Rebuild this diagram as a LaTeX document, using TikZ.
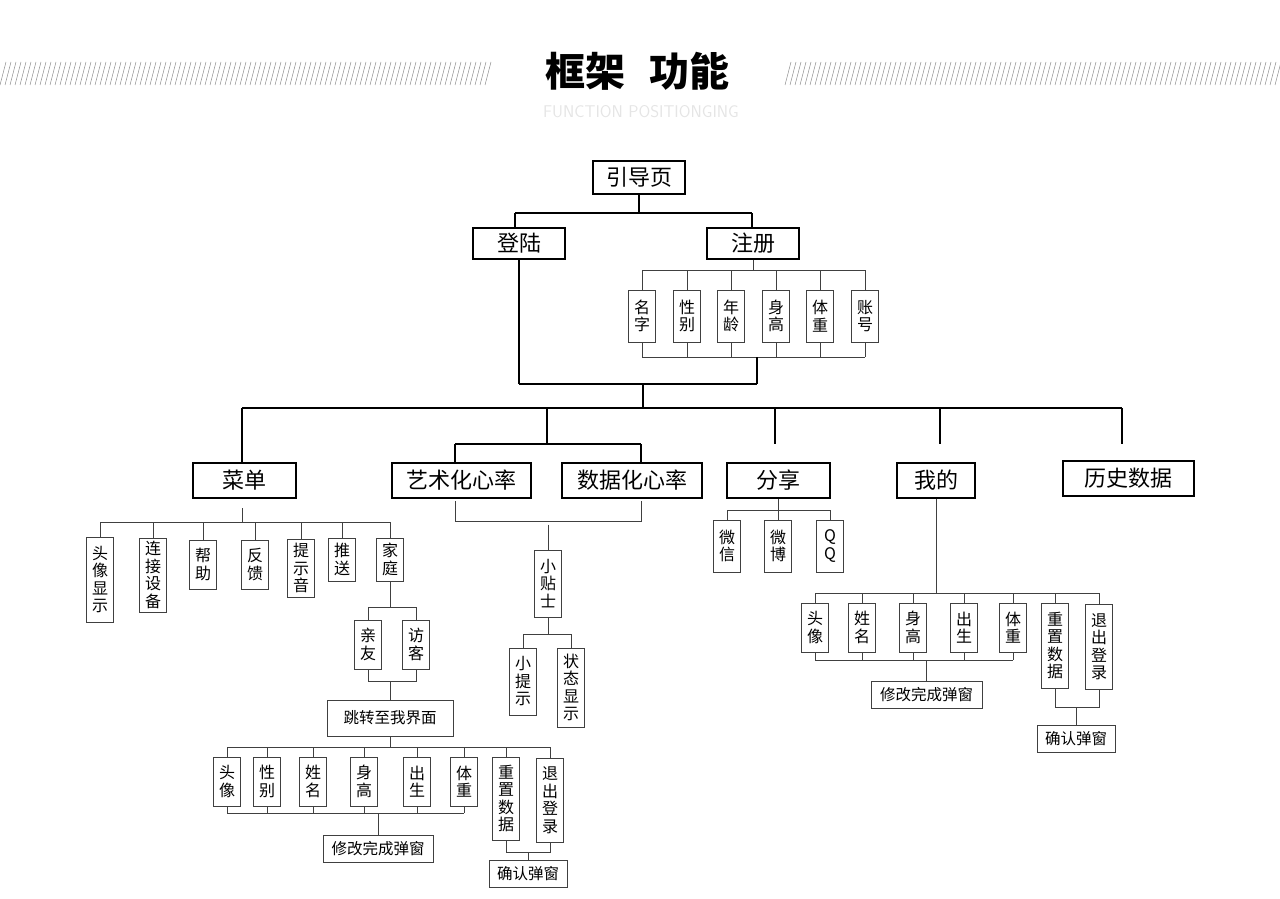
\documentclass[tikz,border=0pt]{standalone}
\usepackage{fontspec}
\setmainfont{Noto Sans CJK SC}
\begin{document}
\begin{tikzpicture}[x=1pt,y=-1pt,
 big/.style={draw=black,line width=2pt,rectangle,inner sep=0pt,font=\fontsize{22}{24}\selectfont},
 vb/.style={draw=black!75,line width=0.8pt,rectangle,inner sep=0pt,minimum width=27pt,align=center,font=\fontsize{16}{17.5}\selectfont},
 hb/.style={draw=black!75,line width=0.8pt,rectangle,inner sep=0pt,font=\fontsize{15.5}{17}\selectfont},
 thick2/.style={line width=2pt},
 thin1/.style={line width=0.8pt,black!75}]
\useasboundingbox (0,0) rectangle (1280,899);
% header
\foreach \i in {0,5,...,485} \draw[black!45,line width=0.5pt] (\i,85) -- (\i+6,62);
\foreach \i in {785,790,...,1275} \draw[black!45,line width=0.5pt] (\i,85) -- (\i+6,62);
\node[font=\fontsize{40}{42}\selectfont\bfseries] (title) at (637,71) {框架\hspace{0.6em}功能};
\node[font=\fontsize{17}{18}\selectfont\sffamily,text=black!10] (sub) at (641,112) {FUNCTION POSITIONGING};
% top
\node[big,minimum width=92pt,minimum height=33pt] (yd) at (639,177.5) {引导页};
\node[big,minimum width=92pt,minimum height=31pt] (dl) at (519,243.5) {登陆};
\node[big,minimum width=92pt,minimum height=31pt] (zc) at (753,243.5) {注册};
\coordinate (b1) at (0,213);
\draw[thick2] (yd.south) -- (yd.south|-b1);
\draw[thick2] (515,213) coordinate (b1l) -- (752,213) coordinate (b1r);
\draw[thick2] (b1l) -- (b1l|-dl.north);
\draw[thick2] (b1r) -- (b1r|-zc.north);
\foreach \n/\x/\t in {mz/642/名\\字,xb/687/性\\别,nl/731/年\\龄,sg/776/身\\高,tz/820/体\\重,zh/865/账\\号}
  \node[vb,minimum height=52pt] (\n) at (\x,316) {\t};
\coordinate (b2) at (0,270); \coordinate (b3) at (0,357);
\draw[thin1] (zc.south) -- (zc.south|-b2);
\draw[thin1] (mz.north|-b2) -- (zh.north|-b2);
\foreach \n in {mz,xb,nl,sg,tz,zh}{
  \draw[thin1] (\n.north|-b2) -- (\n.north);
  \draw[thin1] (\n.south) -- (\n.south|-b3);}
\draw[thin1] (mz.south|-b3) -- (zh.south|-b3);
\coordinate (b4) at (0,384);
\draw[thick2] (757,357) -- (757,384) coordinate (b4r);
\draw[thick2] (dl.south) -- (dl.south|-b4);
\draw[thick2] (dl.south|-b4) -- (b4r);
\draw[thick2] (643,384) coordinate (b4m) -- (643,408) coordinate (b5m);
% level 2
\node[big,minimum width=103pt,minimum height=35pt] (cd) at (244.5,480.5) {菜单};
\node[big,minimum width=139pt,minimum height=35pt] (ys) at (461.5,480.5) {艺术化心率};
\node[big,minimum width=140pt,minimum height=35pt] (sj) at (632,480.5) {数据化心率};
\node[big,minimum width=103pt,minimum height=35pt] (fx) at (778.5,480.5) {分享};
\node[big,minimum width=78pt,minimum height=35pt] (wd) at (936,480.5) {我的};
\node[big,minimum width=131pt,minimum height=35pt] (ls) at (1128.5,478.5) {历史数据};
\draw[thick2] (242,408) -- (1122,408);
\draw[thick2] (242,408) -- (242,463);
\draw[thick2] (547,408) -- (547,444);
\draw[thick2] (455,444) -- (641,444);
\draw[thick2] (455,444) -- (ys.north-|455,0);
\draw[thick2] (641,444) -- (sj.north-|641,0);
\draw[thick2] (775,408) -- (775,444);
\draw[thick2] (940,408) -- (940,444);
\draw[thick2] (1122,408) -- (1122,444);
% menu children
\node[vb,minimum height=85pt] (m1) at (100,579.5) {头\\像\\显\\示};
\node[vb,minimum height=74pt] (m2) at (153,575) {连\\接\\设\\备};
\node[vb,minimum height=49pt] (m3) at (203,564.5) {帮\\助};
\node[vb,minimum height=49pt] (m4) at (255,564.5) {反\\馈};
\node[vb,minimum height=58pt] (m5) at (301,568) {提\\示\\音};
\node[vb,minimum height=43pt] (m6) at (342,559.5) {推\\送};
\node[vb,minimum height=43pt] (m7) at (390,559.5) {家\\庭};
\coordinate (b6) at (0,522);
\draw[thin1] (242,508) -- (242,522);
\draw[thin1] (m1.north|-b6) -- (m7.north|-b6);
\foreach \n in {m1,m2,m3,m4,m5,m6,m7} \draw[thin1] (\n.north|-b6) -- (\n.north);
\node[vb,minimum height=49pt] (qy) at (368,644.5) {亲\\友};
\node[vb,minimum height=49pt] (fk) at (416,644.5) {访\\客};
\coordinate (b7) at (0,607); \coordinate (b8) at (0,681);
\draw[thin1] (m7.south) -- (m7.south|-b7);
\draw[thin1] (qy.north) |- (fk.north|-b7) -- (fk.north);
\draw[thin1] (qy.south) |- (fk.south|-b8) -- (fk.south);
\node[hb,minimum width=126pt,minimum height=36pt] (tz2) at (390,718) {跳转至我界面};
\draw[thin1] (390,681) -- (tz2.north);
\foreach \n/\x/\t in {a1/227/头\\像,a2/267/性\\别,a3/313/姓\\名,a4/364/身\\高,a5/417/出\\生,a6/464/体\\重}
  \node[vb,minimum height=49pt] (\n) at (\x,781.5) {\t};
\node[vb,minimum height=83pt] (a7) at (506,798.5) {重\\置\\数\\据};
\node[vb,minimum height=84pt] (a8) at (550,800) {退\\出\\登\\录};
\coordinate (b9) at (0,747); \coordinate (b10) at (0,813); \coordinate (b11) at (0,852);
\draw[thin1] (tz2.south) -- (tz2.south|-b9);
\draw[thin1] (a1.north|-b9) -- (a8.north|-b9);
\foreach \n in {a1,a2,a3,a4,a5,a6,a7,a8} \draw[thin1] (\n.north|-b9) -- (\n.north);
\foreach \n in {a1,a2,a3,a4,a5,a6} \draw[thin1] (\n.south) -- (\n.south|-b10);
\draw[thin1] (a1.south|-b10) -- (a6.south|-b10);
\node[hb,minimum width=110pt,minimum height=27pt] (xg1) at (378,848.5) {修改完成弹窗};
\draw[thin1] (378,813) -- (xg1.north);
\draw[thin1] (a7.south) |- (a8.south|-b11) -- (a8.south);
\node[hb,minimum width=78pt,minimum height=27pt] (qr1) at (528,873.5) {确认弹窗};
\draw[thin1] (528,852) -- (qr1.north);
% heart rate children
\draw[thin1] (455,501) |- (641,521) -- (641,501);
\node[vb,minimum height=67pt] (xt) at (548,583.5) {小\\贴\\士};
\draw[thin1] (xt.north) ++(0,-25) -- (xt.north);
\node[vb,minimum height=67pt] (xts) at (523,681.5) {小\\提\\示};
\node[vb,minimum height=79pt] (zt) at (571,687.5) {状\\态\\显\\示};
\coordinate (b13) at (0,634);
\draw[thin1] (xt.south) -- (xt.south|-b13);
\draw[thin1] (xts.north) |- (zt.north|-b13) -- (zt.north);
% share
\node[vb,minimum height=52pt] (wx) at (727,546) {微\\信};
\node[vb,minimum height=52pt] (wb) at (778,546) {微\\博};
\node[vb,minimum height=52pt] (qq) at (830,546) {Q\\Q};
\coordinate (b14) at (0,510);
\draw[thin1] (fx.south) -- (fx.south|-b14);
\draw[thin1] (wx.north) |- (qq.north|-b14) -- (qq.north);
\draw[thin1] (wb.north) -- (wb.north|-b14);
% mine
\foreach \n/\x/\t in {w1/815/头\\像,w2/862/姓\\名,w3/913/身\\高,w4/964/出\\生,w5/1013/体\\重}
  \node[vb,minimum height=49pt] (\n) at (\x,627.5) {\t};
\node[vb,minimum height=85pt] (w6) at (1055,645.5) {重\\置\\数\\据};
\node[vb,minimum height=85pt] (w7) at (1099,646.5) {退\\出\\登\\录};
\coordinate (b15) at (0,593); \coordinate (b16) at (0,660); \coordinate (b17) at (0,707);
\draw[thin1] (wd.south) -- (wd.south|-b15);
\draw[thin1] (w1.north|-b15) -- (w7.north|-b15);
\foreach \n in {w1,w2,w3,w4,w5,w6,w7} \draw[thin1] (\n.north|-b15) -- (\n.north);
\foreach \n in {w1,w2,w3,w4,w5} \draw[thin1] (\n.south) -- (\n.south|-b16);
\draw[thin1] (w1.south|-b16) -- (w5.south|-b16);
\node[hb,minimum width=111pt,minimum height=27pt] (xg2) at (926.5,694.5) {修改完成弹窗};
\draw[thin1] (xg2.north|-b16) -- (xg2.north);
\draw[thin1] (w6.south) |- (w7.south|-b17) -- (w7.south);
\node[hb,minimum width=78pt,minimum height=27pt] (qr2) at (1076,738.5) {确认弹窗};
\draw[thin1] (1076,707) -- (qr2.north);
\end{tikzpicture}
\end{document}
